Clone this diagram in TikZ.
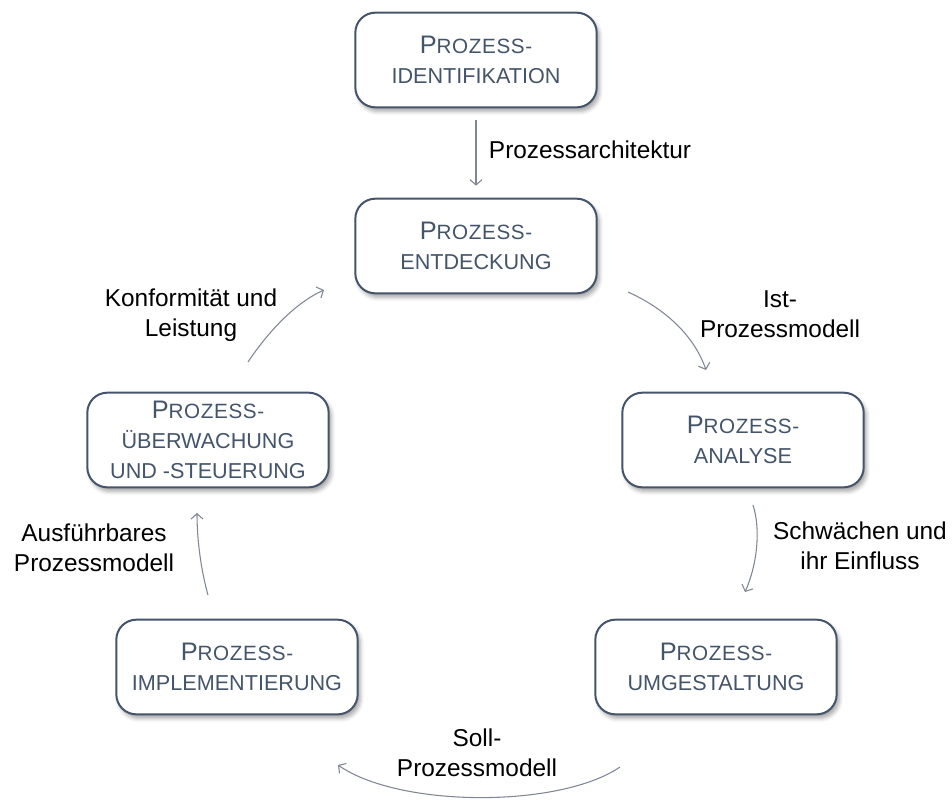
\documentclass[tikz,border=0pt]{standalone}
\usepackage{fontspec}
\setmainfont{Liberation Sans}
\usetikzlibrary{arrows.meta,shadows.blur}
\definecolor{slate}{HTML}{44546A}
\definecolor{arrowgray}{HTML}{7F8694}
% first line of a phase: large initial, then slightly tracked small capitals
\newcommand{\phasehead}{{\fontsize{19}{23}\selectfont P}{\fontsize{15.5}{23}\selectfont\addfontfeatures{LetterSpace=3}ROZESS-}}
\newcommand{\phasefont}{\fontsize{16.2}{23}\selectfont}
\begin{document}
\begin{tikzpicture}[x=0.75pt,y=-0.75pt,
  phasebox/.style={draw=slate, line width=1.5pt, rounded corners=15pt, fill=white,
    minimum width=181pt, minimum height=71pt, text=slate, align=center,
    font=\phasefont, inner sep=0pt,
    blur shadow={shadow xshift=2pt, shadow yshift=-3pt, shadow blur radius=3pt, shadow opacity=35}},
  lbl/.style={font=\fontsize{18.3}{22.5}\selectfont, align=center, inner sep=0pt},
  conn/.style={draw=arrowgray, line width=0.8pt, -{Straight Barb[length=4pt,width=9pt]}}]
\useasboundingbox (0,0) rectangle (952,801);

% process phases
\node[phasebox] (ident) at (476,60)  {\phasehead\\IDENTIFIKATION};
\node[phasebox] (entd)  at (476,246) {\phasehead\\ENTDECKUNG};
\node[phasebox, font=\fontsize{16.2}{22.5}\selectfont] (ueber) at (208,440) {\phasehead\\ÜBERWACHUNG\\UND -STEUERUNG};
\node[phasebox] (anal)  at (743,440) {\phasehead\\ANALYSE};
\node[phasebox] (impl)  at (237,667) {\phasehead\\IMPLEMENTIERUNG};
\node[phasebox] (umg)   at (716,667) {\phasehead\\UMGESTALTUNG};

% labels of the transitions
\node[lbl] (l1) at (590,150) {Prozessarchitektur};
\node[lbl] (l2) at (780,314) {Ist-\\Prozessmodell};
\node[lbl] (l3) at (860,546) {Schwächen und\\ihr Einfluss};
\node[lbl] (l4) at (477,753) {Soll-\\Prozessmodell};
\node[lbl] (l5) at (94,548)  {Ausführbares\\Prozessmodell};
\node[lbl] (l6) at (191,315) {Konformität und\\Leistung};

% free ends of the curved transitions
\coordinate (a2s) at (628,292); \coordinate (a2e) at (706,370);
\coordinate (a3s) at (753,505); \coordinate (a3e) at (745,592);
\coordinate (a4s) at (620,767); \coordinate (a4e) at (338,765);
\coordinate (a5s) at (208,595); \coordinate (a5e) at (197,513);
\coordinate (a6s) at (248,362); \coordinate (a6e) at (324,290);

% transitions
\draw[conn, shorten <=9pt, shorten >=9pt] (ident.south) -- (entd.north);
\draw[conn] (a2s) .. controls (668,310) and (695,338) .. (a2e);
\draw[conn] (a3s) .. controls (761,530) and (757,565) .. (a3e);
\draw[conn] (a4s) .. controls (560,808) and (400,808) .. (a4e);
\draw[conn] (a5s) .. controls (201,570) and (197,540) .. (a5e);
\draw[conn] (a6s) .. controls (268,332) and (295,303) .. (a6e);
\end{tikzpicture}
\end{document}
